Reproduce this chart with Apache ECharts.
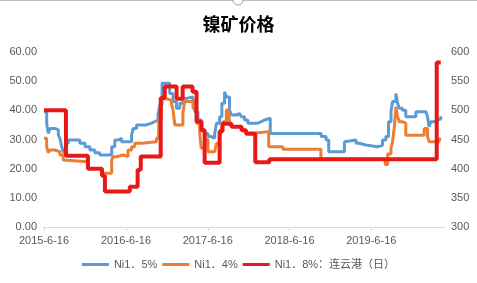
<!DOCTYPE html>
<html><head><meta charset="utf-8">
<script src="https://cdn.jsdelivr.net/npm/echarts@6/dist/echarts.min.js"></script>
<style>html,body{margin:0;padding:0;background:#fff}#c{width:477px;height:283px}</style>
</head><body><div id="c"></div>
<script>
var title = '镍矿价格';
var seriesNames = ['Ni1．5%', 'Ni1．4%', 'Ni1．8%：连云港（日）'];
var xTickLabels = ['2015-6-16', '2016-6-16', '2017-6-16', '2018-6-16', '2019-6-16'];

var ni15 = [
['2015-06-16',39.5],['2015-06-28',35.6],['2015-07-05',32.1],['2015-07-13',33.8],['2015-08-04',33.3],['2015-08-19',31.5],['2015-08-26',30.4],['2015-09-03',27.5],['2015-09-10',25.8],['2015-09-21',28.7],['2015-10-02',29.8],['2015-11-23',28.7],['2015-12-16',27.5],['2016-01-07',26.4],['2016-01-29',25.5],['2016-02-20',24.7],['2016-04-13',27.5],['2016-04-27',29.8],['2016-05-12',30.4],['2016-05-27',29.2],['2016-07-11',31.5],['2016-07-18',33.8],['2016-08-02',35.0],['2016-09-15',35.6],['2016-10-08',36.1],['2016-10-22',36.7],['2016-11-06',38.4],['2016-11-14',41.8],['2016-11-24',49.3],['2016-12-28',45.8],['2017-01-12',43.0],['2017-01-27',40.7],['2017-02-11',42.4],['2017-02-25',44.1],['2017-03-13',44.6],['2017-04-10',43.0],['2017-04-19',39.5],['2017-05-03',36.7],['2017-05-18',33.3],['2017-06-02',32.1],['2017-06-17',31.0],['2017-07-02',30.4],['2017-07-17',32.1],['2017-07-25',35.6],['2017-08-08',37.8],['2017-08-18',42.4],['2017-08-30',46.4],['2017-09-07',44.6],['2017-09-21',40.1],['2017-09-29',38.4],['2017-10-21',38.9],['2017-11-05',39.5],['2017-11-13',37.8],['2017-11-27',36.7],['2017-12-12',35.6],['2018-01-26',36.1],['2018-02-10',36.7],['2018-02-24',37.3],['2018-03-22',32.1],['2018-11-04',31.0],['2018-11-26',29.8],['2018-12-08',25.8],['2019-02-16',29.2],['2019-02-23',29.8],['2019-04-09',28.7],['2019-04-23',28.1],['2019-05-23',27.5],['2019-07-14',28.0],['2019-08-05',29.8],['2019-08-20',31.0],['2019-09-01',36.1],['2019-09-12',39.5],['2019-09-19',43.0],['2019-10-04',45.8],['2019-10-11',42.5],['2019-10-19',40.7],['2019-11-02',40.0],['2019-11-17',37.8],['2020-01-01',39.5],['2020-02-15',40.1],['2020-02-22',37.8],['2020-02-29',34.4],['2020-03-08',36.1],['2020-03-22',36.7],['2020-04-06',37.0],['2020-04-21',38.0]
];

var ni14 = [
['2015-06-16',30.4],['2015-06-28',27.5],['2015-07-05',25.5],['2015-07-13',26.4],['2015-08-04',25.8],['2015-08-26',24.7],['2015-09-10',23.0],['2015-09-18',22.4],['2015-12-30',20.1],['2016-02-27',19.5],['2016-03-05',18.4],['2016-04-13',23.0],['2016-04-20',24.1],['2016-05-05',24.7],['2016-06-03',24.1],['2016-06-25',26.4],['2016-07-11',27.5],['2016-07-25',28.7],['2016-08-24',29.2],['2016-10-30',30.4],['2016-11-09',37.3],['2016-11-21',44.1],['2016-12-06',43.5],['2017-01-05',42.4],['2017-01-12',40.1],['2017-01-20',35.0],['2017-02-25',39.0],['2017-03-05',43.0],['2017-04-11',40.7],['2017-04-26',35.6],['2017-05-11',32.1],['2017-05-18',27.0],['2017-06-02',30.0],['2017-06-17',25.8],['2017-07-17',26.4],['2017-07-25',28.7],['2017-08-08',31.0],['2017-08-15',33.3],['2017-08-23',36.1],['2017-09-07',40.1],['2017-09-18',38.5],['2017-09-21',36.0],['2017-09-29',34.5],['2017-11-14',33.2],['2017-12-04',32.2],['2018-01-14',32.7],['2018-03-15',27.5],['2018-05-17',26.7],['2018-11-03',23.2],['2019-08-17',21.4],['2019-08-28',25.0],['2019-09-12',27.0],['2019-09-19',29.2],['2019-09-26',33.8],['2019-10-04',41.2],['2019-10-11',38.0],['2019-10-19',36.1],['2019-11-02',35.6],['2019-11-17',31.5],['2020-02-07',33.8],['2020-02-22',31.0],['2020-02-29',29.2],['2020-04-14',30.4],['2020-04-21',29.8]
];

var ni18Lyg = [
['2015-06-16',500],['2015-09-22',422],['2015-12-29',400],['2016-03-01',388],['2016-03-14',361],['2016-07-03',369],['2016-08-07',398],['2016-08-21',421],['2016-11-18',521],['2016-12-06',541],['2017-01-28',520],['2017-02-24',541],['2017-04-09',532],['2017-04-27',481],['2017-05-19',466],['2017-06-02',410],['2017-08-08',464],['2017-08-21',477],['2017-09-30',472],['2017-11-14',466],['2017-12-04',460],['2018-01-14',411],['2018-03-18',416],['2020-04-03',582],['2020-04-21',582]
];

function dayOf(s) {
  var p = s.split('-').map(Number);
  return (Date.UTC(p[0], p[1] - 1, p[2]) - Date.UTC(2015, 5, 16)) / 86400000;
}
function conv(arr) { return arr.map(function (d) { return [dayOf(d[0]), d[1]]; }); }
var tickDays = xTickLabels.map(dayOf);

var txt = '#595959';
var ff = '"Liberation Sans","Noto Sans CJK SC",sans-serif';
var chart = echarts.init(document.getElementById('c'), null, {renderer: 'canvas'});
chart.setOption({
  animation: false,
  backgroundColor: '#fff',
  title: {text: title, left: 'center', top: 10, textStyle: {fontSize: 18, fontWeight: 'bold', color: '#000', fontFamily: '"Noto Sans CJK SC",sans-serif'}},
  grid: {left: 44, right: 32, top: 52, bottom: 56},
  legend: {
    bottom: 8, left: 'center', icon: 'rect', itemWidth: 27, itemHeight: 3, itemGap: 5,
    textStyle: {color: txt, fontSize: 11, fontFamily: ff},
    data: seriesNames
  },
  xAxis: {
    type: 'value', min: 0, max: 1790,
    axisLine: {show: true, lineStyle: {color: '#D9D9D9', width: 1}},
    axisTick: {show: true, customValues: tickDays, length: 4, lineStyle: {color: '#D9D9D9'}},
    axisLabel: {customValues: tickDays, color: txt, fontSize: 11, fontFamily: ff, margin: 8,
      formatter: function (v) { var i = tickDays.indexOf(v); return i >= 0 ? xTickLabels[i] : ''; }},
    splitLine: {show: false}
  },
  yAxis: [
    {type: 'value', min: 0, max: 60, interval: 10, axisLine: {show: false}, axisTick: {show: false}, splitLine: {show: false},
      axisLabel: {color: txt, fontSize: 11, fontFamily: ff, margin: 7, formatter: function (v) { return v.toFixed(2); }}},
    {type: 'value', min: 300, max: 600, interval: 50, position: 'right', axisLine: {show: false}, axisTick: {show: false}, splitLine: {show: false},
      axisLabel: {color: txt, fontSize: 11, fontFamily: ff, margin: 6}}
  ],
  series: [
    {name: seriesNames[0], type: 'line', step: 'end', yAxisIndex: 0, showSymbol: false, data: conv(ni15), color: '#5B9BD5', lineStyle: {width: 3, color: '#5B9BD5'}},
    {name: seriesNames[1], type: 'line', step: 'end', yAxisIndex: 0, showSymbol: false, data: conv(ni14), color: '#ED7D31', lineStyle: {width: 3, color: '#ED7D31'}},
    {name: seriesNames[2], type: 'line', step: 'end', yAxisIndex: 1, showSymbol: false, data: conv(ni18Lyg), color: '#E81818', lineStyle: {width: 4, color: '#E81818'}}
  ],
  graphic: [
    {type: 'line', shape: {x1: 0, y1: 0.5, x2: 477, y2: 0.5}, style: {stroke: '#BFBFBF', lineWidth: 1}},
    {type: 'circle', shape: {cx: 238, cy: 0, r: 5}, style: {fill: '#fff', stroke: '#A0A0A0', lineWidth: 1}}
  ]
});
</script>
</body></html>
